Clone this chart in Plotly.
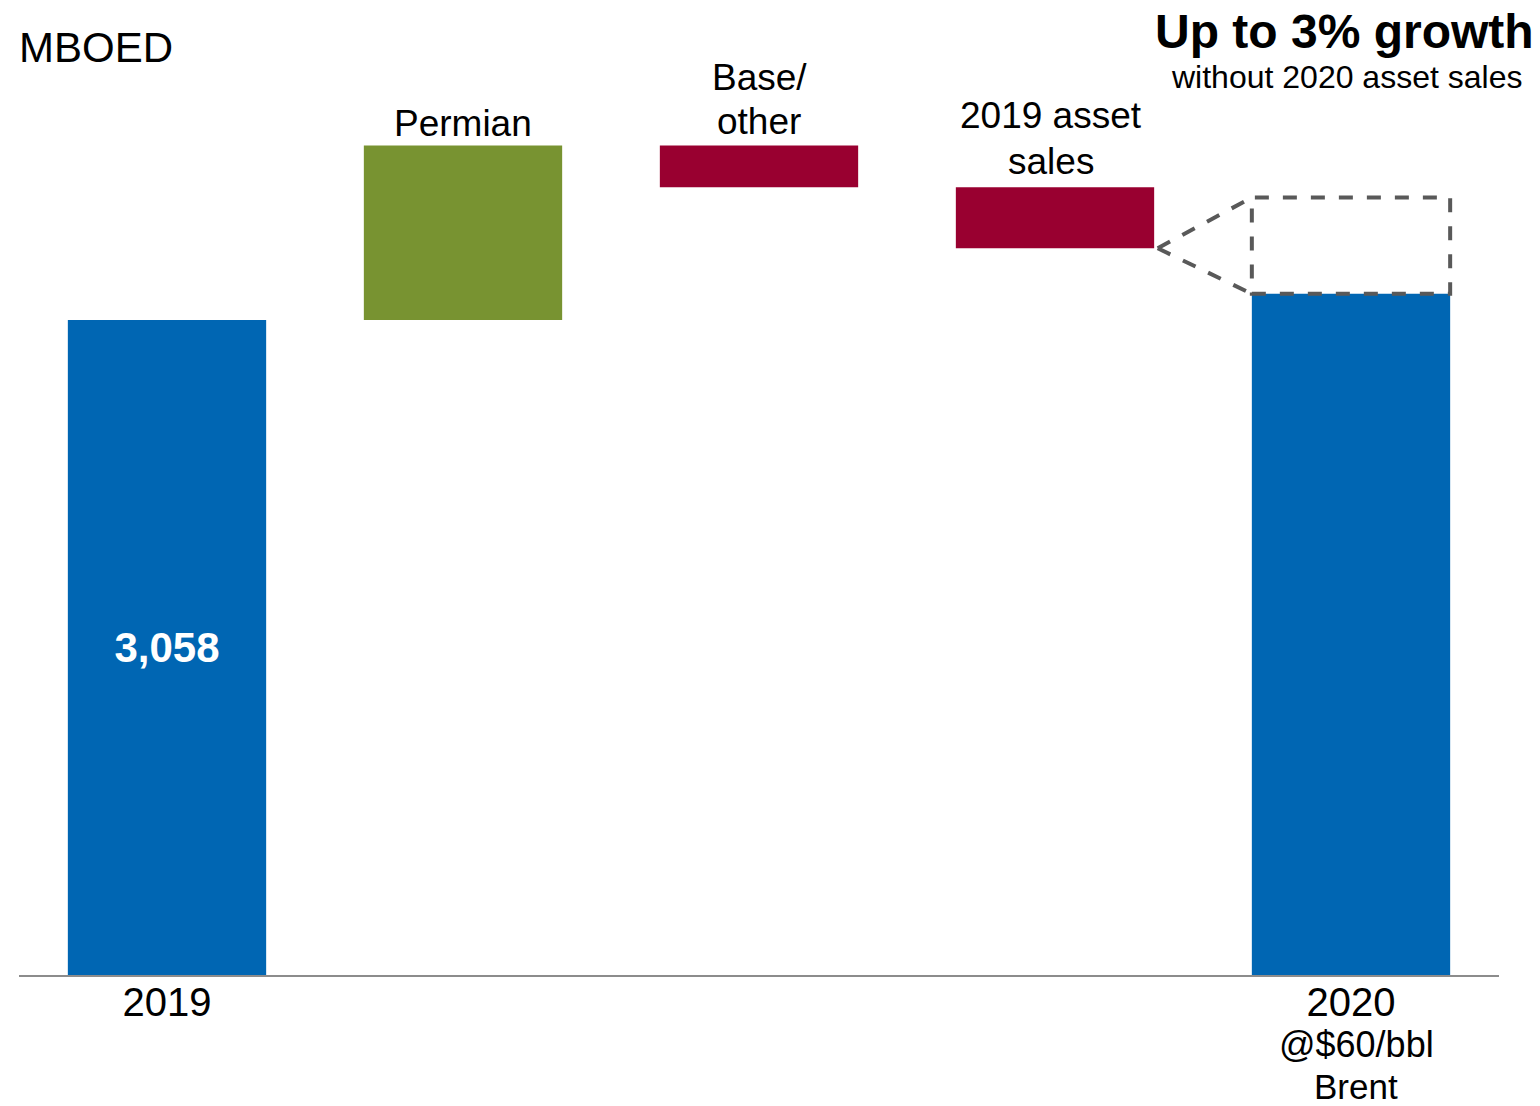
import plotly.graph_objects as go

# Production bridge, MBOED
steps = ["2019", "Permian", "Base/other", "2019 asset sales", "2020"]
start_2019 = 3058
deltas = [815, -195, -285]          # Permian, Base/other, 2019 asset sales
end_2020 = 3180
end_2020_without_sales = 3630       # top of the dashed "without 2020 asset sales" box

BLUE = "#0066B3"
GREEN = "#789331"
RED = "#990030"
DASH_GREY = "#595959"

# floating bar geometry for the waterfall
levels = [start_2019]
for d in deltas:
    levels.append(levels[-1] + d)

bar_base = [0] + levels[:-1] + [0]
bar_len = [start_2019] + deltas + [end_2020]
bar_col = [BLUE, GREEN, RED, RED, BLUE]
xs = list(range(len(steps)))
half_w = 0.335

W, H = 1540, 1106
ML, MR, MT, MB = 19, 41, 0, 131
PW, PH = W - ML - MR, H - MT - MB
YMAX = start_2019 * 975 / 655


def px_x(px):
    return (px - ML) / PW


def px_y(py):
    return 1 - (py - MT) / PH


fig = go.Figure()
fig.add_trace(go.Bar(
    x=xs, y=bar_len, base=bar_base,
    width=half_w * 2,
    marker=dict(color=bar_col, line=dict(width=0)),
    texttemplate=["%{y:,}", "", "", "", ""],
    textposition="inside",
    insidetextanchor="middle",
    textfont=dict(family="Liberation Sans, Arial", size=42, color="white", weight="bold"),
    hoverinfo="skip",
))

# dashed box and connector for 2020 without asset sales
line = dict(color=DASH_GREY, width=4, dash="14px,14px")
fig.add_shape(type="rect", x0=4 - half_w, x1=4 + half_w,
              y0=end_2020, y1=end_2020_without_sales, line=line, layer="above")
apex_x = 3 + half_w + 0.012
for y_end in (end_2020_without_sales, end_2020):
    fig.add_shape(type="line", x0=apex_x, y0=levels[-1], x1=4 - half_w, y1=y_end,
                  line=line, layer="above")

FONT = "Liberation Sans, Arial, sans-serif"
ann = []


def txt(text, x, y, size, xanchor="center", bold=False, xref="paper", xshift=0):
    ann.append(dict(text=f"<b>{text}</b>" if bold else text, x=x, y=y,
                    xref=xref, yref="paper", xanchor=xanchor, yanchor="middle",
                    xshift=xshift, showarrow=False,
                    font=dict(family=FONT, size=size, color="black")))


txt("MBOED", px_x(17), px_y(48), 42, xanchor="left")
txt("Up to 3% growth", px_x(1536), px_y(31), 48, xanchor="right", bold=True)
txt("without 2020 asset sales", px_x(1346), px_y(77), 32)
txt("Permian", 1, px_y(123), 37, xref="x")
txt("Base/", 2, px_y(77), 37, xref="x")
txt("other", 2, px_y(122), 37, xref="x")
txt("2019 asset", 3, px_y(116), 37, xref="x", xshift=-4)
txt("sales", 3, px_y(161), 37, xref="x", xshift=-4)
txt("@$60/bbl", 4, px_y(1044), 36, xref="x", xshift=5)
txt("Brent", 4, px_y(1086), 35, xref="x", xshift=5)

fig.update_layout(
    width=W, height=H,
    margin=dict(l=ML, r=MR, t=MT, b=MB, pad=0),
    paper_bgcolor="white", plot_bgcolor="white",
    showlegend=False,
    annotations=ann,
    font=dict(family=FONT, color="black"),
    xaxis=dict(range=[-0.5, 4.5], tickvals=[0, 4], ticktext=["2019", "2020"],
               tickfont=dict(family=FONT, size=40, color="black"),
               ticklabelstandoff=-9,
               showline=True, linecolor="#8C8C8C", linewidth=2,
               showgrid=False, zeroline=False, ticks="", fixedrange=True),
    yaxis=dict(range=[0, YMAX], visible=False, showgrid=False, zeroline=False,
               fixedrange=True),
)

fig.write_html("out.html")
